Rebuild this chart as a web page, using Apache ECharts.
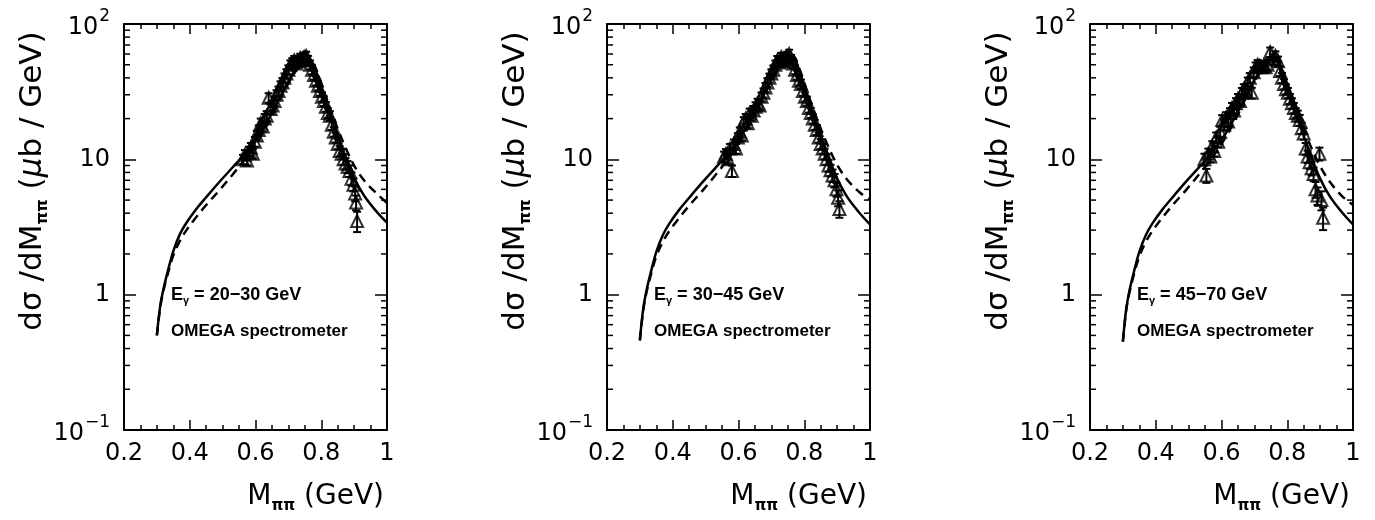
<!DOCTYPE html>
<html>
<head>
<meta charset="utf-8">
<script src="https://cdn.jsdelivr.net/npm/echarts@6/dist/echarts.min.js"></script>
<style>
  html, body { margin: 0; padding: 0; background: #fff; }
  #chart { width: 1375px; height: 520px; }
</style>
</head>
<body>
<div id="chart"></div>
<script>
// Photon beam energy bins, one panel each
const beamRanges = ['20\u221230', '30\u221245', '45\u221270'];
const experiment = 'OMEGA spectrometer';

// Axis ticks
const xTicks = [0.2, 0.4, 0.6, 0.8, 1.0];
const yMinorTicks = [0.2, 0.3, 0.4, 0.5, 0.6, 0.7, 0.8, 0.9,
                     2, 3, 4, 5, 6, 7, 8, 9,
                     20, 30, 40, 50, 60, 70, 80, 90];

// Model curves: M_pipi (GeV) and dsigma/dM (mub/GeV)
const curveMass = [0.300, 0.310, 0.320, 0.335, 0.350, 0.370, 0.390, 0.420, 0.450, 0.490,
                   0.530, 0.570, 0.610, 0.650, 0.690, 0.720, 0.745, 0.765, 0.785, 0.810,
                   0.840, 0.870, 0.900, 0.930, 0.965, 1.000];
const solidP1  = [0.50, 0.82, 1.10, 1.55, 2.10, 2.80, 3.40, 4.30, 5.25, 6.80,
                  8.70, 11.2, 15.0, 22.0, 34.0, 45.0, 53.0, 54.0, 44.0, 29.0,
                  17.5, 11.0, 7.3, 5.4, 4.2, 3.4];
const dashedP1 = [0.50, 0.80, 1.07, 1.48, 1.95, 2.50, 3.00, 3.75, 4.60, 5.90,
                  7.70, 10.2, 14.0, 21.0, 33.0, 44.0, 53.0, 55.0, 46.0, 31.0,
                  19.5, 12.8, 9.0, 7.0, 5.7, 4.75];
const solidP2  = [0.46, 0.78, 1.07, 1.52, 2.07, 2.76, 3.36, 4.25, 5.20, 6.75,
                  8.65, 11.2, 15.2, 22.5, 35.0, 47.0, 56.0, 57.0, 45.0, 29.0,
                  17.5, 11.0, 7.2, 5.3, 4.1, 3.3];
const dashedP2 = [0.46, 0.76, 1.04, 1.45, 1.92, 2.46, 2.96, 3.70, 4.55, 5.85,
                  7.65, 10.2, 14.2, 21.5, 34.0, 46.0, 56.0, 58.0, 47.0, 31.0,
                  19.5, 12.9, 9.1, 7.1, 5.8, 5.0];
const solidP3  = [0.45, 0.78, 1.07, 1.52, 2.07, 2.76, 3.36, 4.25, 5.20, 6.75,
                  8.65, 11.2, 15.2, 22.5, 35.0, 46.0, 54.0, 55.0, 44.0, 29.0,
                  17.5, 11.0, 7.2, 5.3, 4.1, 3.3];
const dashedP3 = [0.45, 0.76, 1.04, 1.45, 1.92, 2.46, 2.96, 3.70, 4.55, 5.85,
                  7.65, 10.2, 14.2, 21.5, 34.0, 45.0, 54.0, 56.0, 46.0, 31.0,
                  19.5, 12.7, 8.9, 6.8, 5.4, 4.6];

// Measured points: mass, cross section, error
const massP1  = [0.562, 0.568, 0.574, 0.580, 0.586, 0.592, 0.598, 0.604, 0.610, 0.616,
                 0.622, 0.628, 0.634, 0.640, 0.646, 0.652, 0.658, 0.664, 0.670, 0.676,
                 0.682, 0.688, 0.694, 0.700, 0.706, 0.712, 0.718, 0.724, 0.730, 0.736,
                 0.742, 0.748, 0.754, 0.760, 0.766, 0.772, 0.778, 0.784, 0.790, 0.796,
                 0.802, 0.808, 0.814, 0.820, 0.826, 0.832, 0.838, 0.844, 0.850, 0.856,
                 0.862, 0.868, 0.874, 0.880, 0.886, 0.892, 0.898, 0.903, 0.906, 0.909];
const sigmaP1 = [10.0, 10.8, 9.8, 11.5, 12.2, 11.0, 13.5, 15.0, 16.5, 18.5,
                 17.5, 20.0, 21.0, 28.5, 23.5, 25.0, 27.0, 30.0, 32.0, 35.0,
                 37.0, 40.0, 43.0, 46.0, 50.0, 52.0, 54.0, 51.0, 53.0, 56.0,
                 54.0, 57.0, 58.0, 54.0, 50.0, 46.0, 42.0, 38.0, 35.0, 32.0,
                 29.0, 27.0, 24.5, 22.0, 21.0, 18.0, 16.0, 14.5, 13.0, 11.5,
                 11.0, 10.0, 9.3, 8.8, 8.2, 7.2, 6.5, 5.6, 4.8, 3.5];
const errP1   = [0.8, 0.9, 0.8, 0.9, 1.0, 0.9, 1.1, 1.2, 1.3, 1.5,
                 1.4, 1.6, 1.7, 2.3, 1.9, 2.0, 2.1, 2.4, 2.5, 2.7,
                 2.9, 3.1, 3.3, 3.5, 3.8, 3.9, 4.0, 3.8, 4.0, 4.2,
                 4.0, 4.3, 4.4, 4.1, 3.8, 3.5, 3.2, 2.9, 2.7, 2.5,
                 2.3, 2.2, 2.0, 1.8, 1.7, 1.5, 1.3, 1.2, 1.1, 1.0,
                 1.0, 0.9, 0.9, 0.9, 0.8, 0.8, 0.7, 0.7, 0.6, 0.6];

const massP2  = [0.556, 0.562, 0.568, 0.574, 0.580, 0.586, 0.592, 0.598, 0.604, 0.610,
                 0.616, 0.622, 0.628, 0.634, 0.640, 0.646, 0.652, 0.658, 0.664, 0.670,
                 0.676, 0.682, 0.688, 0.694, 0.700, 0.706, 0.712, 0.718, 0.724, 0.730,
                 0.736, 0.742, 0.748, 0.754, 0.760, 0.766, 0.772, 0.778, 0.784, 0.790,
                 0.796, 0.802, 0.808, 0.814, 0.820, 0.826, 0.832, 0.838, 0.844, 0.850,
                 0.856, 0.862, 0.868, 0.874, 0.880, 0.886, 0.892, 0.898, 0.903, 0.907];
const sigmaP2 = [10.5, 11.0, 10.0, 12.0, 8.2, 13.0, 12.0, 14.5, 16.0, 15.0,
                 19.0, 20.0, 18.5, 22.0, 21.0, 23.0, 24.5, 26.0, 25.0, 29.0,
                 31.0, 34.0, 37.0, 40.0, 43.0, 46.0, 50.0, 54.0, 52.0, 57.0,
                 55.0, 53.0, 58.0, 60.0, 55.0, 51.0, 46.0, 42.0, 38.0, 36.0,
                 32.0, 29.0, 27.0, 24.0, 22.0, 20.0, 18.0, 16.5, 14.5, 13.0,
                 12.0, 11.0, 10.0, 9.0, 8.3, 7.6, 7.0, 6.0, 5.2, 4.3];
const errP2   = [0.9, 0.9, 0.8, 1.0, 0.8, 1.0, 1.0, 1.1, 1.2, 1.2,
                 1.5, 1.6, 1.5, 1.7, 1.7, 1.8, 1.9, 2.0, 2.0, 2.2,
                 2.4, 2.6, 2.8, 3.0, 3.2, 3.4, 3.7, 4.0, 3.9, 4.2,
                 4.1, 4.0, 4.3, 4.5, 4.1, 3.8, 3.5, 3.2, 2.9, 2.8,
                 2.5, 2.3, 2.1, 1.9, 1.8, 1.6, 1.5, 1.4, 1.2, 1.1,
                 1.0, 1.0, 0.9, 0.9, 0.8, 0.8, 0.8, 0.7, 0.7, 0.6];

const massP3  = [0.548, 0.554, 0.560, 0.566, 0.572, 0.578, 0.584, 0.590, 0.596, 0.602,
                 0.608, 0.614, 0.620, 0.626, 0.632, 0.638, 0.644, 0.650, 0.656, 0.662,
                 0.668, 0.674, 0.680, 0.686, 0.692, 0.698, 0.704, 0.710, 0.716, 0.722,
                 0.728, 0.734, 0.740, 0.748, 0.756, 0.764, 0.772, 0.778, 0.784, 0.790,
                 0.796, 0.802, 0.808, 0.814, 0.820, 0.826, 0.832, 0.838, 0.844, 0.850,
                 0.856, 0.862, 0.868, 0.874, 0.880, 0.886, 0.892, 0.898, 0.904, 0.909];
const sigmaP3 = [10.0, 7.6, 11.0, 10.5, 12.5, 11.5, 14.5, 13.5, 16.0, 19.5,
                 18.0, 20.5, 19.0, 22.0, 24.0, 23.0, 26.0, 28.0, 27.0, 31.0,
                 33.0, 32.0, 37.0, 40.0, 31.0, 44.0, 48.0, 50.0, 49.0, 48.0,
                 49.0, 48.0, 50.0, 62.0, 55.0, 58.0, 53.0, 45.0, 40.0, 36.0,
                 33.0, 31.0, 28.0, 26.0, 24.0, 22.0, 21.0, 19.5, 17.0, 15.5,
                 12.0, 10.5, 9.5, 8.6, 7.8, 6.0, 5.4, 11.0, 5.0, 3.7];
const errP3   = [1.0, 0.9, 1.0, 1.0, 1.1, 1.0, 1.3, 1.2, 1.4, 1.7,
                 1.6, 1.8, 1.7, 1.9, 2.1, 2.0, 2.3, 2.4, 2.4, 2.7,
                 2.9, 2.8, 3.2, 3.4, 2.8, 3.7, 4.0, 4.2, 4.1, 4.0,
                 4.1, 4.0, 4.2, 5.0, 4.6, 4.8, 4.4, 3.8, 3.4, 3.1,
                 2.8, 2.7, 2.4, 2.3, 2.1, 1.9, 1.9, 1.8, 1.6, 1.5,
                 1.2, 1.1, 1.0, 1.0, 0.9, 0.8, 0.8, 1.2, 0.8, 0.7];

const panels = [
  { left: 124, solid: solidP1, dashed: dashedP1, mass: massP1, sigma: sigmaP1, err: errP1 },
  { left: 607, solid: solidP2, dashed: dashedP2, mass: massP2, sigma: sigmaP2, err: errP2 },
  { left: 1090, solid: solidP3, dashed: dashedP3, mass: massP3, sigma: sigmaP3, err: errP3 }
];

const GRID_TOP = 24, GRID_W = 263, GRID_H = 406;
const X_MIN = 0.2, X_MAX = 1.0;
const FONT = 'DejaVu Sans';
const BLACK = '#000';

const chart = echarts.init(document.getElementById('chart'), null, { renderer: 'canvas' });

const grids = [], xAxes = [], yAxes = [], series = [], graphics = [];

function xAxisCfg(gi, pos, labels) {
  return {
    type: 'value', gridIndex: gi, position: pos, min: X_MIN, max: X_MAX, interval: 0.2,
    axisLine: { show: true, onZero: false, lineStyle: { color: BLACK, width: 2 } },
    axisTick: { show: true, inside: true, length: 10, lineStyle: { color: BLACK, width: 1.5 } },
    minorTick: { show: true, splitNumber: 4, length: 5, lineStyle: { color: BLACK, width: 1.5 } },
    splitLine: { show: false },
    axisLabel: {
      show: labels, margin: 12, color: BLACK, fontFamily: FONT, fontSize: 24,
      formatter: v => (Math.abs(v - 1) < 1e-9 ? '1' : v.toFixed(1))
    }
  };
}

function yAxisCfg(gi, pos, labels) {
  return {
    type: 'log', logBase: 10, gridIndex: gi, position: pos, min: 0.1, max: 100,
    axisLine: { show: true, onZero: false, lineStyle: { color: BLACK, width: 2 } },
    axisTick: { show: true, inside: true, length: 12, lineStyle: { color: BLACK, width: 1.5 } },
    splitLine: { show: false },
    axisLabel: {
      show: labels, margin: 14, color: BLACK,
      formatter: v => {
        const e = Math.round(Math.log10(v));
        if (e === 0) return '{n|1}';
        if (e === 1) return '{n|10}';
        return '{p|10}{s|' + (e < 0 ? '\u2212' : '') + Math.abs(e) + '}';
      },
      rich: {
        n: { fontFamily: FONT, fontSize: 24, color: BLACK, lineHeight: 26 },
        p: { fontFamily: FONT, fontSize: 24, color: BLACK, lineHeight: 24, padding: [8, 0, 0, 0] },
        s: { fontFamily: FONT, fontSize: 17, color: BLACK, lineHeight: 17, padding: [0, 0, 15, 1] }
      }
    }
  };
}

panels.forEach((p, i) => {
  grids.push({ left: p.left, top: GRID_TOP, width: GRID_W, height: GRID_H, containLabel: false });
  xAxes.push(xAxisCfg(i, 'bottom', true), xAxisCfg(i, 'top', false));
  yAxes.push(yAxisCfg(i, 'left', true), yAxisCfg(i, 'right', false));
  const xi = 2 * i, yi = 2 * i;

  // theory curves
  series.push({
    type: 'line', xAxisIndex: xi, yAxisIndex: yi, z: 2,
    data: curveMass.map((m, k) => [m, p.solid[k]]),
    showSymbol: false, smooth: 0.35,
    lineStyle: { color: BLACK, width: 2.5 }, silent: true
  });
  series.push({
    type: 'line', xAxisIndex: xi, yAxisIndex: yi, z: 2,
    data: curveMass.map((m, k) => [m, p.dashed[k]]),
    showSymbol: false, smooth: 0.35,
    lineStyle: { color: BLACK, width: 2.5, type: [9, 6] }, silent: true
  });

  // error bars
  series.push({
    type: 'custom', xAxisIndex: xi, yAxisIndex: yi, z: 3, clip: false, silent: true,
    data: p.mass.map((m, k) => [m, p.sigma[k], p.err[k]]),
    renderItem: (params, api) => {
      const x = api.value(0), y = api.value(1), e = api.value(2);
      const lo = api.coord([x, y - e]), hi = api.coord([x, y + e]);
      const cap = 4;
      const st = { stroke: BLACK, lineWidth: 2 };
      return {
        type: 'group', children: [
          { type: 'line', shape: { x1: lo[0], y1: lo[1], x2: hi[0], y2: hi[1] }, style: st },
          { type: 'line', shape: { x1: lo[0] - cap, y1: lo[1], x2: lo[0] + cap, y2: lo[1] }, style: st },
          { type: 'line', shape: { x1: hi[0] - cap, y1: hi[1], x2: hi[0] + cap, y2: hi[1] }, style: st }
        ]
      };
    }
  });

  // open triangles
  series.push({
    type: 'scatter', xAxisIndex: xi, yAxisIndex: yi, z: 4, silent: true,
    data: p.mass.map((m, k) => [m, p.sigma[k]]),
    symbol: 'triangle', symbolSize: 12,
    itemStyle: { color: 'rgba(0,0,0,0)', borderColor: BLACK, borderWidth: 2 }
  });

  // minor ticks of the log axis on both vertical frame edges
  series.push({
    type: 'custom', xAxisIndex: xi, yAxisIndex: yi, z: 5, clip: false, silent: true,
    data: yMinorTicks.map(v => [X_MIN, v]),
    renderItem: (params, api) => {
      const v = api.value(1);
      const l = api.coord([X_MIN, v]), r = api.coord([X_MAX, v]);
      const st = { stroke: BLACK, lineWidth: 1.5 };
      return {
        type: 'group', children: [
          { type: 'line', shape: { x1: l[0], y1: l[1], x2: l[0] + 6, y2: l[1] }, style: st },
          { type: 'line', shape: { x1: r[0], y1: r[1], x2: r[0] - 6, y2: r[1] }, style: st }
        ]
      };
    }
  });

  // axis titles
  graphics.push({
    type: 'text', x: p.left - 91, y: 181, rotation: Math.PI / 2,
    style: {
      text: '{t|d\u03c3 /dM}{sub|\u03c0\u03c0}{t| (}{mu|\u03bc}{t|b / GeV)}',
      align: 'center', verticalAlign: 'middle',
      rich: {
        t: { fontFamily: FONT, fontSize: 31, fill: BLACK, lineHeight: 36 },
        sub: { fontFamily: FONT, fontSize: 16, fontWeight: 'bold', fill: BLACK, verticalAlign: 'bottom', lineHeight: 22 },
        mu: { fontFamily: FONT, fontSize: 31, fontStyle: 'italic', fill: BLACK, lineHeight: 36 }
      }
    }
  });
  graphics.push({
    type: 'text', x: p.left + GRID_W - 3, y: 497,
    style: {
      text: '{t|M}{sub|\u03c0\u03c0}{t| (GeV)}',
      align: 'right', verticalAlign: 'middle',
      rich: {
        t: { fontFamily: FONT, fontSize: 28, fill: BLACK, lineHeight: 34 },
        sub: { fontFamily: FONT, fontSize: 15, fontWeight: 'bold', fill: BLACK, verticalAlign: 'bottom', lineHeight: 20 }
      }
    }
  });

  // panel annotations
  graphics.push({
    type: 'text', x: p.left + 47, y: 295,
    style: {
      text: '{t|E}{g|\u03b3}{t| = ' + beamRanges[i] + ' GeV}',
      align: 'left', verticalAlign: 'middle',
      rich: {
        t: { fontFamily: 'Liberation Sans', fontWeight: 'bold', fontSize: 18, fill: BLACK, lineHeight: 22 },
        g: { fontFamily: 'Liberation Sans', fontWeight: 'bold', fontSize: 11, fill: BLACK, verticalAlign: 'bottom', lineHeight: 17 }
      }
    }
  });
  graphics.push({
    type: 'text', x: p.left + 47, y: 331,
    style: {
      text: experiment, align: 'left', verticalAlign: 'middle',
      fontFamily: 'Liberation Sans', fontWeight: 'bold', fontSize: 17, fill: BLACK
    }
  });
});

chart.setOption({
  animation: false,
  backgroundColor: '#fff',
  grid: grids,
  xAxis: xAxes,
  yAxis: yAxes,
  series: series,
  graphic: graphics
});
</script>
</body>
</html>
